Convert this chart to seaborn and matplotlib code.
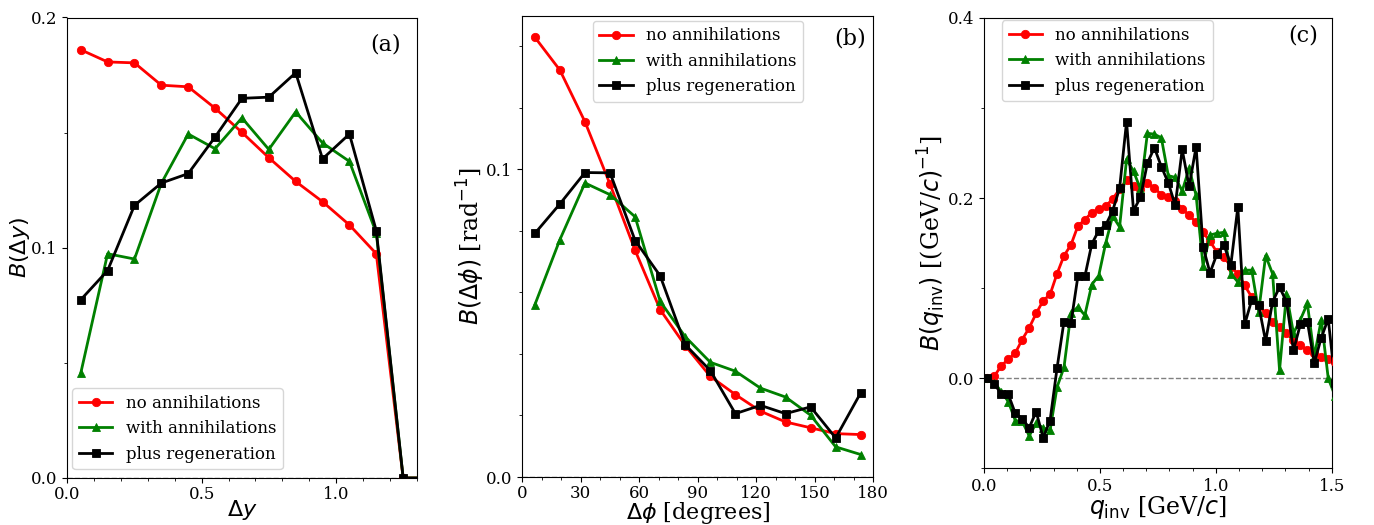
import numpy as np
import pandas as pd
import matplotlib
matplotlib.use("Agg")
import matplotlib.pyplot as plt
from matplotlib.ticker import MultipleLocator, FormatStrFormatter
import seaborn as sns

# ---------------- data ----------------
labels = ["no annihilations", "with annihilations", "plus regeneration"]
colors = ["red", "green", "black"]
markers = ["o", "^", "s"]

# panel (a): balance function vs rapidity difference
dy = [0.05, 0.15, 0.25, 0.35, 0.45, 0.55, 0.65, 0.75, 0.85, 0.95, 1.05, 1.15, 1.25, 1.35]
a_none = [0.186, 0.1807, 0.1803, 0.1706, 0.1699, 0.1606, 0.1501, 0.1391, 0.1288, 0.1200,
          0.1099, 0.0974, 0.0, 0.0]
a_ann = [0.0455, 0.0974, 0.0951, 0.1280, 0.1494, 0.1430, 0.1564, 0.1427, 0.1590, 0.1455,
         0.1375, 0.1064, 0.0, 0.0]
a_regen = [0.0774, 0.0901, 0.1184, 0.1281, 0.1322, 0.1481, 0.1649, 0.1654, 0.1760, 0.1386,
           0.1494, 0.1074, 0.0, 0.0]

# panel (b): balance function vs azimuthal angle difference
dphi = [6.43, 19.29, 32.14, 45.0, 57.86, 70.71, 83.57, 96.43, 109.29, 122.14, 135.0,
        147.86, 160.71, 173.57]
b_none = [0.1430, 0.1323, 0.1155, 0.0952, 0.0737, 0.0544, 0.0427, 0.0327, 0.0268, 0.0214,
          0.0179, 0.0160, 0.0141, 0.0138]
b_ann = [0.0560, 0.0772, 0.0956, 0.0918, 0.0846, 0.0571, 0.0456, 0.0373, 0.0344, 0.0289,
         0.0260, 0.0201, 0.0098, 0.0073]
b_regen = [0.0792, 0.0888, 0.0990, 0.0989, 0.0769, 0.0654, 0.0430, 0.0346, 0.0206, 0.0233,
           0.0206, 0.0228, 0.0127, 0.0274]

# panel (c): balance function vs invariant relative momentum
qinv = [0.015, 0.045, 0.075, 0.105, 0.135, 0.165, 0.195, 0.225, 0.255, 0.285,
        0.315, 0.345, 0.375, 0.405, 0.435, 0.465, 0.495, 0.525, 0.555, 0.585,
        0.615, 0.645, 0.675, 0.705, 0.735, 0.765, 0.795, 0.825, 0.855, 0.885,
        0.915, 0.945, 0.975, 1.005, 1.035, 1.065, 1.095, 1.125, 1.155, 1.185,
        1.215, 1.245, 1.275, 1.305, 1.335, 1.365, 1.395, 1.425, 1.455, 1.485, 1.515]
c_none = [0.0, 0.0025, 0.014, 0.021, 0.028, 0.043, 0.056, 0.072, 0.086, 0.093,
          0.116, 0.136, 0.148, 0.169, 0.176, 0.184, 0.188, 0.191, 0.199, 0.210,
          0.220, 0.213, 0.210, 0.217, 0.211, 0.204, 0.201, 0.197, 0.188, 0.181,
          0.173, 0.162, 0.152, 0.140, 0.135, 0.124, 0.116, 0.103, 0.090, 0.081,
          0.072, 0.063, 0.057, 0.050, 0.042, 0.037, 0.031, 0.028, 0.024, 0.021, 0.018]
c_ann = [0.0, -0.005, -0.015, -0.026, -0.047, -0.048, -0.064, -0.050, -0.055, -0.058,
         -0.010, 0.012, 0.072, 0.079, 0.070, 0.104, 0.114, 0.150, 0.180, 0.168,
         0.243, 0.230, 0.210, 0.272, 0.271, 0.267, 0.225, 0.223, 0.208, 0.233,
         0.203, 0.125, 0.159, 0.161, 0.162, 0.116, 0.107, 0.120, 0.120, 0.074,
         0.136, 0.116, 0.009, 0.094, 0.050, 0.065, 0.083, 0.024, 0.065, 0.0, -0.020]
c_regen = [0.0, -0.006, -0.018, -0.018, -0.039, -0.045, -0.055, -0.037, -0.066, -0.047,
           0.011, 0.063, 0.061, 0.113, 0.113, 0.149, 0.164, 0.170, 0.186, 0.211,
           0.285, 0.186, 0.201, 0.239, 0.256, 0.235, 0.217, 0.192, 0.254, 0.213,
           0.257, 0.146, 0.117, 0.138, 0.148, 0.126, 0.190, 0.060, 0.087, 0.081,
           0.041, 0.085, 0.101, 0.085, 0.031, 0.060, 0.063, 0.017, 0.045, 0.066, -0.005]

# ---------------- style ----------------
plt.rcParams["font.family"] = ["DejaVu Serif"]
plt.rcParams["mathtext.fontset"] = "dejavusans"
plt.rcParams["font.size"] = 12

fig = plt.figure(figsize=(13.74, 5.25), dpi=100)
W, H = 1374.0, 525.0


def add_ax(left, top, right, bottom):
    return fig.add_axes([left / W, 1 - bottom / H, (right - left) / W, (bottom - top) / H])


ax_a = add_ax(67.3, 17.5, 416.6, 478.0)
ax_b = add_ax(522.3, 15.7, 873.3, 477.0)
ax_c = add_ax(984.0, 18.0, 1331.7, 468.3)


def draw(ax, x, ys):
    ax.axhline(0, color="gray", ls="--", lw=1.0, zorder=1)
    for y, lab, col, mk in zip(ys, labels, colors, markers):
        sns.lineplot(x=x, y=y, ax=ax, color=col, marker=mk, label=lab, lw=2.0,
                     markersize=6.0, markeredgecolor=col, markeredgewidth=0.6,
                     sort=False, zorder=3)


draw(ax_a, dy, [a_none, a_ann, a_regen])
draw(ax_b, dphi, [b_none, b_ann, b_regen])
draw(ax_c, qinv, [c_none, c_ann, c_regen])

lab_fs = 16
# panel (a)
ax_a.set_xlim(0, 1.3)
ax_a.set_ylim(0, 0.2)
ax_a.xaxis.set_major_locator(MultipleLocator(0.5))
ax_a.xaxis.set_minor_locator(MultipleLocator(0.1))
ax_a.yaxis.set_major_locator(MultipleLocator(0.1))
ax_a.yaxis.set_minor_locator(MultipleLocator(0.05))
ax_a.xaxis.set_major_formatter(FormatStrFormatter("%.1f"))
ax_a.yaxis.set_major_formatter(FormatStrFormatter("%.1f"))
ax_a.set_xlabel(r"$\Delta y$", fontsize=lab_fs, labelpad=-3)
ax_a.set_ylabel(r"$B(\Delta y)$", fontsize=lab_fs, labelpad=-1)
ax_a.legend(loc="lower left", bbox_to_anchor=(0.0143, 0.019), borderaxespad=0, fontsize=12)
ax_a.text(0.955, 0.941, "(a)", transform=ax_a.transAxes, ha="right", va="center", fontsize=16)

# panel (b)
ax_b.set_xlim(0, 180)
ax_b.set_ylim(0, 0.15)
ax_b.xaxis.set_major_locator(MultipleLocator(30))
ax_b.xaxis.set_minor_locator(MultipleLocator(10))
ax_b.yaxis.set_major_locator(MultipleLocator(0.1))
ax_b.yaxis.set_minor_locator(MultipleLocator(0.02))
ax_b.yaxis.set_major_formatter(FormatStrFormatter("%.1f"))
ax_b.set_xlabel(r"$\Delta\phi$ [degrees]", fontsize=lab_fs, labelpad=-1.5)
ax_b.set_ylabel(r"$B(\Delta\phi)$ [rad$^{-1}$]", fontsize=lab_fs + 1, labelpad=-1)
ax_b.legend(loc="upper left", bbox_to_anchor=(0.2006, 0.989), borderaxespad=0, fontsize=12)
ax_b.text(0.979, 0.950, "(b)", transform=ax_b.transAxes, ha="right", va="center", fontsize=16)

# panel (c)
ax_c.set_xlim(0, 1.5)
ax_c.set_ylim(-0.1, 0.4)
ax_c.xaxis.set_major_locator(MultipleLocator(0.5))
ax_c.xaxis.set_minor_locator(MultipleLocator(0.1))
ax_c.yaxis.set_major_locator(MultipleLocator(0.2))
ax_c.yaxis.set_minor_locator(MultipleLocator(0.1))
ax_c.xaxis.set_major_formatter(FormatStrFormatter("%.1f"))
ax_c.yaxis.set_major_formatter(FormatStrFormatter("%.1f"))
ax_c.set_xlabel(r"$q_{\rm inv}$ [GeV/$c$]", fontsize=lab_fs + 1, labelpad=-1)
ax_c.set_ylabel(r"$B(q_{\rm inv})$ [(GeV/$c)^{-1}$]", fontsize=lab_fs + 1, labelpad=0)
ax_c.legend(loc="upper left", bbox_to_anchor=(0.052, 0.995), borderaxespad=0, fontsize=12)
ax_c.text(0.96, 0.962, "(c)", transform=ax_c.transAxes, ha="right", va="center", fontsize=16)

for ax in (ax_a, ax_b, ax_c):
    ax.tick_params(labelsize=12)
for ax in (ax_a, ax_b):
    ax.tick_params(axis="x", which="major", pad=2.0)

fig.savefig("out.png", dpi=100)
